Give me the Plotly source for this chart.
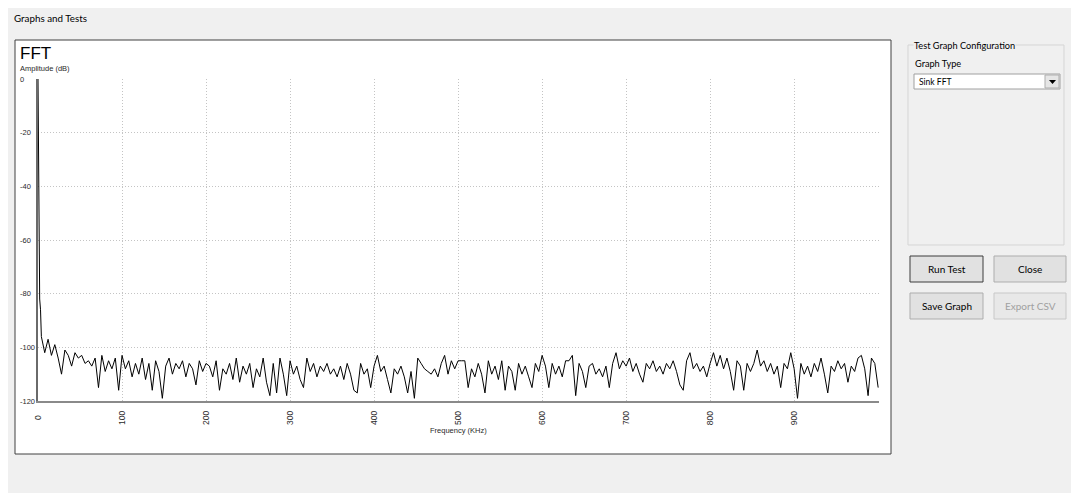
import plotly.graph_objects as go

W, H = 1071, 493       # browser window / figure size
OFF = 8                # white strip at the top-left of the window

# ---------------- data ----------------
freq_head = [0, 1, 2, 3]
amp_head = [0, -38, -82, -86]

band_0 = [-96, -102, -97, -103, -99, -104, -110, -101, -103, -107, -102, -104, -103,
          -106, -105, -107, -104, -115, -103, -109, -105, -108, -104, -116, -103]
band_100 = [-108, -105, -111, -106, -110, -104, -112, -106, -116, -105, -109, -119, -107,
            -104, -110, -106, -108, -105, -111, -106, -108, -114, -105, -109, -106]
band_200 = [-107, -111, -105, -116, -108, -110, -106, -112, -104, -113, -107, -110, -106,
            -115, -108, -111, -104, -113, -118, -106, -117, -104, -110, -118, -105]
band_300 = [-110, -107, -112, -115, -104, -109, -106, -111, -107, -109, -106, -110, -108,
            -111, -107, -112, -106, -110, -116, -117, -106, -110, -108, -115, -107]
band_400 = [-103, -109, -107, -112, -117, -108, -110, -107, -111, -117, -109, -119, -104,
            -106, -108, -109, -110, -108, -111, -106, -103, -110, -105, -108, -105]
band_500 = [-105, -105, -115, -108, -111, -106, -110, -117, -105, -110, -107, -112, -105,
            -116, -107, -109, -116, -106, -110, -107, -111, -115, -106, -109, -103]
band_600 = [-107, -115, -106, -110, -107, -111, -105, -105, -103, -118, -106, -109, -115,
            -107, -106, -110, -108, -111, -107, -115, -106, -102, -108, -105, -107]
band_700 = [-104, -109, -106, -110, -113, -106, -108, -105, -109, -107, -110, -106, -108,
            -105, -109, -114, -116, -105, -102, -108, -106, -109, -107, -111, -106]
band_800 = [-102, -107, -103, -108, -104, -109, -116, -105, -107, -116, -106, -109, -106,
            -101, -107, -105, -109, -106, -110, -107, -115, -106, -108, -102, -108]
band_900 = [-119, -106, -110, -107, -111, -106, -109, -104, -110, -117, -107, -109, -105,
            -108, -106, -113, -107, -109, -104, -103, -108, -118, -104, -106, -115]

freq_step = 4  # KHz between plotted bins after the head
y_ticks = [0, -20, -40, -60, -80, -100, -120]
x_ticks = [0, 100, 200, 300, 400, 500, 600, 700, 800, 900]

amp_body = (band_0 + band_100 + band_200 + band_300 + band_400 + band_500 +
            band_600 + band_700 + band_800 + band_900)
freq_body = [freq_step * (i + 1) for i in range(len(amp_body))]
freq = freq_head + freq_body
amp = amp_head + amp_body


# ---------------- helpers (window pixel -> paper fraction) ----------------
def px(x):
    return x / W


def py(y):
    return 1 - y / H


PLOT_L, PLOT_R, PLOT_T, PLOT_B = 38, 879, 79, 401

UI_FONT = "Lato"
CH_FONT = "Liberation Sans"
LBL = "#2a2a2a"

fig = go.Figure()
fig.add_trace(go.Scatter(x=freq, y=amp, mode="lines",
                         line=dict(color="black", width=1), hoverinfo="skip",
                         showlegend=False))

shapes = []
annots = []


def rect(x0, y0, x1, y1, fill=None, line=None, lw=1, layer="below"):
    shapes.append(dict(type="rect", xref="paper", yref="paper",
                       x0=px(x0), x1=px(x1), y0=py(y1), y1=py(y0),
                       fillcolor=fill if fill else "rgba(0,0,0,0)",
                       line=dict(color=line if line else "rgba(0,0,0,0)", width=lw if line else 0),
                       layer=layer))


def text(x, y, s, size=11, color="black", font=UI_FONT, xanchor="left", yanchor="middle",
         bg=None, angle=0, xref="paper", yref="paper"):
    a = dict(x=px(x) if xref == "paper" else x, y=py(y) if yref == "paper" else y,
             xref=xref, yref=yref, text=s, showarrow=False, xanchor=xanchor,
             yanchor=yanchor, textangle=angle,
             font=dict(family=font, size=size, color=color), borderpad=0)
    if bg:
        a["bgcolor"] = bg
    annots.append(a)


# window background
rect(OFF, OFF, W, H, fill="#f0f0f0")
text(13, 18, "Graphs and Tests", size=9.8)

# chart frame
rect(15, 40, 891, 454, fill="white", line="#404040", lw=1)
text(19, 53, "FFT", size=17, font=CH_FONT)
text(19, 68, "Amplitude (dB)", size=7.5, font=CH_FONT, color=LBL)

for v in y_ticks:
    text(19, v, str(v), size=7.5, font=CH_FONT, color=LBL, yref="y")
for v in x_ticks:
    text(v, 418, str(v), size=8.5, font=CH_FONT, color=LBL, xref="x",
         xanchor="center", angle=-90)
text(458, 430, "Frequency (KHz)", size=7.5, font=CH_FONT, color=LBL, xanchor="center")

# right panel: group box
rect(908, 45, 1064, 245, line="#d5d5d5", lw=1)
text(913, 45, "Test Graph Configuration", size=9.2, bg="#f0f0f0")
text(914, 63, "Graph Type", size=9.2)
rect(914, 74, 1060, 89, fill="white", line="#a0a0a0")
text(918, 81.5, "Sink FFT", size=8.5)
rect(1045, 75, 1059, 88, fill="#e6e6e6", line="#adadad")
shapes.append(dict(type="path", xref="paper", yref="paper",
                   path=f"M {px(1049)},{py(80)} L {px(1056)},{py(80)} L {px(1052.5)},{py(84)} Z",
                   fillcolor="black", line=dict(width=0), layer="above"))

# buttons
rect(910, 256, 983, 282, fill="#e1e1e1", line="#3c3c3c", lw=1)
text(946.5, 269, "Run Test", size=10, xanchor="center")
rect(994, 256, 1066, 282, fill="#e1e1e1", line="#adadad", lw=1)
text(1030, 269, "Close", size=10, xanchor="center")
rect(910, 293, 983, 319, fill="#e1e1e1", line="#adadad", lw=1)
text(946.5, 306, "Save Graph", size=10, xanchor="center")
rect(994, 293, 1066, 319, fill="#e8e8e8", line="#c8c8c8", lw=1)
text(1030, 306, "Export CSV", size=10, color="#a0a0a0", xanchor="center")

fig.update_layout(
    width=W, height=H, autosize=False,
    margin=dict(l=0, r=0, t=0, b=0, pad=0),
    paper_bgcolor="white", plot_bgcolor="rgba(0,0,0,0)",
    shapes=shapes, annotations=annots, showlegend=False,
    xaxis=dict(domain=[px(PLOT_L), px(PLOT_R)], range=[0, 1001], tickvals=x_ticks,
               showticklabels=False, ticks="", showgrid=True, gridcolor="#c4c4c4",
               griddash="1px,2px", gridwidth=1, zeroline=False, showline=True,
               linecolor="#8a8a8a", linewidth=2, fixedrange=True),
    yaxis=dict(domain=[py(PLOT_B), py(PLOT_T)], range=[-120, 0], tickvals=y_ticks,
               showticklabels=False, ticks="", showgrid=True, gridcolor="#c4c4c4",
               griddash="1px,2px", gridwidth=1, zeroline=False, showline=True,
               linecolor="#6a6a6a", linewidth=2, fixedrange=True),
)

fig.write_html(
    "out.html",
    config=dict(displayModeBar=False),
    post_script="document.documentElement.style.margin='0';document.body.style.margin='0';"
                "document.body.style.overflow='hidden';"
                "document.documentElement.style.background='#f0f0f0';"
                "document.body.style.background='#f0f0f0';",
)
